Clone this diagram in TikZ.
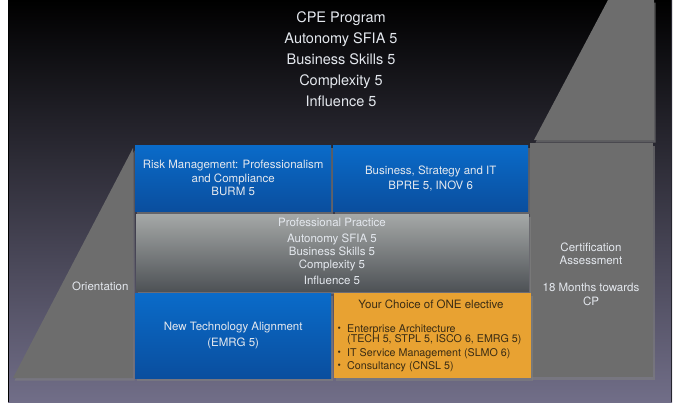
\documentclass[tikz,border=0pt]{standalone}
\usepackage{fontspec}
\setmainfont{TeX Gyre Heros}
\usetikzlibrary{shadows}
\definecolor{slidemid}{HTML}{2B2948}
\definecolor{slidebot}{HTML}{716E88}
\definecolor{slideedge}{HTML}{26252F}
\definecolor{stepgrey}{HTML}{6D6D6D}
\definecolor{bluetop}{HTML}{0A6BC9}
\definecolor{bluebot}{HTML}{0A4E9E}
\definecolor{practop}{HTML}{A5A8A7}
\definecolor{pracbot}{HTML}{4E5256}
\definecolor{electfill}{HTML}{E8A232}
\definecolor{electtext}{HTML}{3A2C14}
\definecolor{softwhite}{HTML}{E4E8EE}
\begin{document}
\begin{tikzpicture}[x=1pt, y=-1pt,
  shade box/.style={drop shadow={shadow xshift=1.5pt, shadow yshift=-2.5pt, opacity=.6}},
  every box/.style={shade box, anchor=north west, inner sep=0pt, align=center,
    text=softwhite, font=\fontsize{11.5}{13.5}\selectfont},
  blue box/.style={every box, top color=bluetop, bottom color=bluebot},
  grey box/.style={every box, fill=stepgrey},
  practice box/.style={every box, top color=practop, bottom color=pracbot},
  elective box/.style={every box, fill=electfill},
  top line/.style={anchor=mid, text=softwhite, font=\fontsize{14.5}{17}\selectfont},
  box line/.style={anchor=mid, text=softwhite, font=\fontsize{11.5}{13.5}\selectfont},
  item line/.style={anchor=base west, inner sep=0pt, text=electtext, font=\fontsize{10.7}{12}\selectfont}]
\useasboundingbox (0,0) rectangle (677,402);
\fill[white] (0,0) rectangle (677,402);
\shade[top color=black, middle color=slidemid, bottom color=slidebot] (8,0) rectangle (672,402);
\draw[black, line width=1.4pt] (8.7,0) -- (8.7,402);
\draw[slideedge, line width=1.4pt] (671.3,0) -- (671.3,402);
\fill[stepgrey, shade box] (608,0) -- (654,0) -- (654,140) -- (534,140) -- cycle;
\fill[stepgrey, shade box] (13,378) -- (133,378) -- (133,148) -- cycle;
\foreach \l [count=\i] in {CPE Program, Autonomy SFIA 5, Business Skills 5, Complexity 5, Influence 5}
  \node [top line] (cpe-\i) at (341,21*\i-1) {\l};
\node [box line, anchor=mid east] (orient) at (132,288) {Orientation};
\node [grey box, minimum width=123, minimum height=234] (cert) at (530,143) {};
\node [box line, anchor=center, align=center] (cert-text) at (591,274)
  {Certification\\Assessment\\[13.5pt]18 Months towards\\CP};
\node [blue box, minimum width=196, minimum height=66] (risk) at (135,145)
  {Risk Management: Professionalism\\and Compliance\\BURM 5};
\node [blue box, minimum width=195, minimum height=66] (strat) at (333,145)
  {Business, Strategy and IT\\[1.5pt]BPRE 5, INOV 6};
\node [practice box, minimum width=393, minimum height=77] (prac) at (136,214) {};
\foreach \l/\y [count=\i] in {Professional Practice/224, Autonomy SFIA 5/240, Business Skills 5/253, Complexity 5/266, Influence 5/282}
  \node [box line] (prac-\i) at (332,\y) {\l};
\node [blue box, minimum width=196, minimum height=85] (newtech) at (135,293)
  {New Technology Alignment\\[2.5pt](EMRG 5)};
\node [elective box, minimum width=197, minimum height=85] (elect) at (334,293) {};
\node [box line, text=electtext] (elect-head) at (431,306) {Your Choice of ONE elective};
\foreach \l/\y [count=\i] in {{Enterprise Architecture}/332, {(TECH 5, STPL 5, ISCO 6, EMRG 5)}/342, {IT Service Management (SLMO 6)}/356, {Consultancy (CNSL 5)}/369}
  \node [item line] (item-\i) at (347,\y) {\l};
\foreach \y [count=\i] in {332,356,369}
  \node [item line, font=\fontsize{9.5}{10}\selectfont] (dot-\i) at (337.5,\y-0.5) {\textbullet};
\end{tikzpicture}
\end{document}
